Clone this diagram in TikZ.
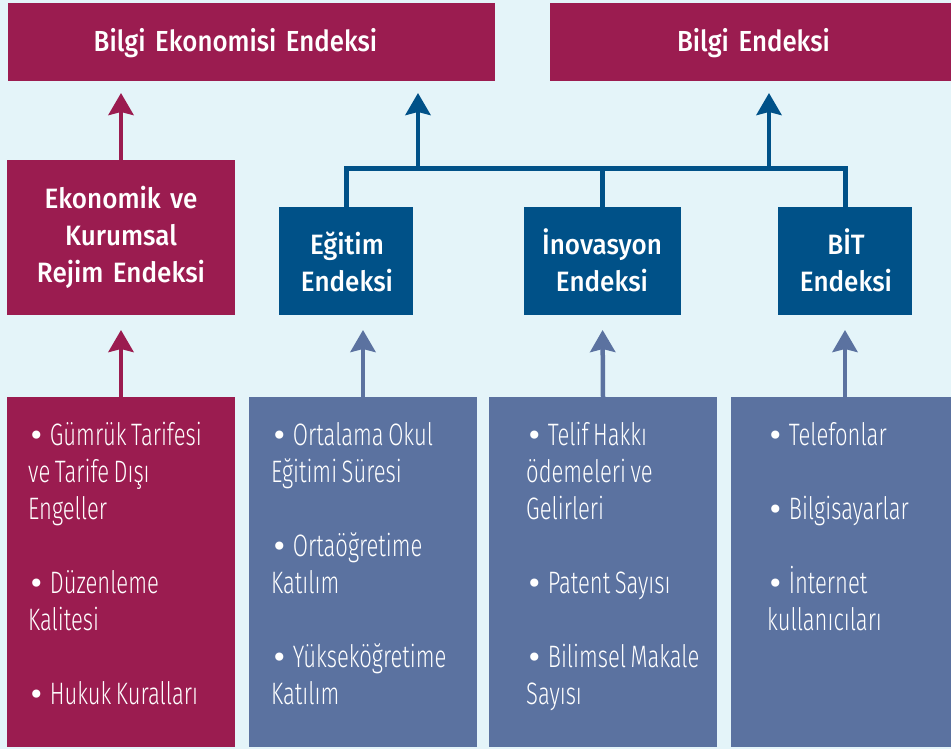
\documentclass[tikz,border=0pt]{standalone}
\usepackage{fontspec}
\setmainfont{Fira Sans}
\newfontfamily\headfont[FakeStretch=0.93, WordSpace=0.8]{Fira Sans Medium}
\newfontfamily\titlefont[FakeStretch=0.89, WordSpace=0.75]{Fira Sans Medium}
\newfontfamily\bodyfont[FakeStretch=0.71]{Fira Sans Light}
\newfontfamily\bulfont{DejaVu Sans}
\newcommand{\bul}{{\bulfont\fontsize{28}{28}\selectfont •}\,}
\newcommand{\bodysetup}{\bodyfont\fontsize{31}{37.14}\selectfont}
\newcommand{\tightspace}{\spaceskip=4.5pt\relax}
\usetikzlibrary{arrows.meta}
\definecolor{bgc}{RGB}{228,244,249}
\definecolor{crim}{RGB}{155,28,80}
\definecolor{dblue}{RGB}{0,81,136}
\definecolor{slate}{RGB}{91,114,160}
\begin{document}
\begin{tikzpicture}[x=1pt,y=-1pt,
  panel/.style={rectangle, inner sep=0pt, outer sep=0pt, draw=none},
  headtext/.style={anchor=base, text=white, text width=220pt, align=center, inner sep=0pt,
    font=\headfont\fontsize{28}{37.3}\selectfont},
  titletext/.style={anchor=base, text=white, text width=440pt, align=center, inner sep=0pt,
    font=\titlefont\fontsize{29}{37}\selectfont},
  listtext/.style={anchor=base west, text=white, text width=205pt, align=left, inner sep=0pt,
    font=\bodysetup, execute at begin node=\tightspace},
  arr/.style={line width=4.5pt, -{Stealth[width=25pt,length=22pt,inset=3pt]}, shorten >=12pt},
  arrlow/.style={line width=4.5pt, -{Stealth[width=25pt,length=22pt,inset=3pt]}, shorten >=15pt},
  bus/.style={line width=5pt, draw=dblue, line join=miter},
]
\fill[bgc] (0,0) rectangle (951,749);
\useasboundingbox (0,0) rectangle (951,749);

% top boxes
\node[panel, fill=crim, minimum width=487pt, minimum height=78pt] (top1) at (251.5,42) {};
\node[panel, fill=crim, minimum width=401pt, minimum height=78pt] (top2) at (750.5,42) {};
\node[titletext] (top1t) at (235.5,51.7) {Bilgi Ekonomisi Endeksi};
\node[titletext] (top2t) at (753.5,51.7) {Bilgi Endeksi};

% middle boxes
\node[panel, fill=crim, minimum width=228pt, minimum height=155pt] (eco) at (121,237.5) {};
\node[panel, fill=dblue, minimum width=134pt, minimum height=108pt] (egt) at (346,261) {};
\node[panel, fill=dblue, minimum width=157pt, minimum height=108pt] (ino) at (602.5,261) {};
\node[panel, fill=dblue, minimum width=134pt, minimum height=108pt] (bit) at (845,261) {};
\node[headtext] (ecot) at (121,208) {Ekonomik ve\\Kurumsal\\Rejim Endeksi};
\node[headtext] (egtt) at (347,254) {Eğitim\\Endeksi};
\node[headtext] (inot) at (602,254) {İnovasyon\\Endeksi};
\node[headtext] (bitt) at (846,254) {BİT\\Endeksi};

% bottom boxes
\node[panel, fill=crim, minimum width=228pt, minimum height=350pt] (b1) at (121,572) {};
\node[panel, fill=slate, minimum width=228pt, minimum height=350pt] (b2) at (363,572) {};
\node[panel, fill=slate, minimum width=228pt, minimum height=350pt] (b3) at (603,572) {};
\node[panel, fill=slate, minimum width=220pt, minimum height=350pt] (b4) at (841,572) {};

\node[listtext] (b1t) at (28,445) {\bul Gümrük Tarifesi\\ve Tarife Dışı\\Engeller\\[37.14pt]\bul Düzenleme\\Kalitesi\\[37.14pt]\bul Hukuk Kuralları};
\node[listtext] (b2t) at (271,445) {\bul Ortalama Okul\\Eğitimi Süresi\\[37.14pt]\bul Ortaöğretime\\Katılım\\[37.14pt]\bul Yükseköğretime\\Katılım};
\node[listtext] (b3t) at (526,445) {\bul Telif Hakkı\\ödemeleri ve\\Gelirleri\\[37.14pt]\bul Patent Sayısı\\[37.14pt]\bul Bilimsel Makale\\Sayısı};
\node[listtext] (b4t) at (767,445) {\bul Telefonlar\\[37.14pt]\bul Bilgisayarlar\\[37.14pt]\bul İnternet\\kullanıcıları};

% bus
\coordinate (busy) at (0,168.5);
\coordinate (up1) at (418,168.5);
\coordinate (up2) at (769,168.5);
\draw[bus] (egt.north) |- (bit.north |- busy) -- (bit.north);
\draw[bus] (ino.north) -- (ino.north |- busy);
\draw[arr, dblue] (up1) -- (up1 |- top1.south);
\draw[arr, dblue] (up2) -- (up2 |- top2.south);

% crimson arrows
\draw[arr, crim] (eco.north) -- (eco.north |- top1.south);
\draw[arrlow, crim] (b1.north) -- (eco.south);

% slate arrows
\draw[arrlow, slate] (b2.north) -- (b2.north |- egt.south);
\draw[arrlow, slate] (b3.north) -- (ino.south);
\draw[arrlow, slate] (bit.south |- b4.north) -- (bit.south);
\end{tikzpicture}
\end{document}
